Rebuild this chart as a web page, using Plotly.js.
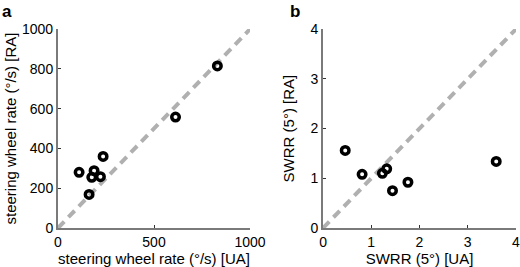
<!DOCTYPE html>
<html><head><meta charset="utf-8">
<script src="https://cdn.plot.ly/plotly-3.0.1.min.js"></script>
<style>html,body{margin:0;padding:0;background:#fff}</style>
</head><body><div id="chart" style="width:520px;height:267px"></div>
<script>
const uaRateA = [830, 612, 235, 110, 188, 176, 221, 162];
const raRateA = [815, 558, 360, 280, 288, 255, 258, 169];
const uaSwrrB = [0.46, 0.81, 1.23, 1.32, 1.44, 1.76, 3.59];
const raSwrrB = [1.56, 1.08, 1.10, 1.19, 0.75, 0.92, 1.34];
const identityA = [0, 1000];
const identityB = [0, 4];

const mk = {symbol:'circle-open', size:7.5, color:'#000', line:{width:3.5, color:'#000'}};
const dashLine = {color:'#b0b0b0', width:4, dash:'9px,6px'};
const data = [
  {x:identityA, y:identityA, mode:'lines', line:dashLine, xaxis:'x', yaxis:'y', hoverinfo:'skip'},
  {x:uaRateA, y:raRateA, mode:'markers', marker:mk, xaxis:'x', yaxis:'y'},
  {x:identityB, y:identityB, mode:'lines', line:dashLine, xaxis:'x2', yaxis:'y2', hoverinfo:'skip'},
  {x:uaSwrrB, y:raSwrrB, mode:'markers', marker:mk, xaxis:'x2', yaxis:'y2'}
];
const fam = 'Liberation Sans, Arial, sans-serif';
const tfnt = {family:fam, size:14, color:'#000'};
const titleFnt = {family:fam, size:15, color:'#000'};
function ax(extra){
  return Object.assign({showgrid:false, zeroline:false, showline:true, linecolor:'#7a7a7a', linewidth:2,
    ticks:'inside', ticklen:3, tickcolor:'#333', tickfont:tfnt, mirror:false, fixedrange:true,
    ticklabeloverflow:'allow'}, extra);
}
const layout = {
  width:520, height:267, margin:{l:0,r:0,t:0,b:0}, showlegend:false,
  paper_bgcolor:'#fff', plot_bgcolor:'#fff', font:tfnt,
  xaxis: ax({domain:[0.1115,0.4808], range:[0,1000], tickvals:[0,500,1000], anchor:'y',
    title:{text:'steering wheel rate (°/s) [UA]', font:titleFnt, standoff:0}}),
  yaxis: ax({domain:[0.146,0.891], range:[0,1000], tickvals:[0,200,400,600,800,1000], anchor:'x',
    title:{text:'steering wheel rate (°/s) [RA]', font:titleFnt, standoff:2}}),
  xaxis2: ax({domain:[0.6212,0.9923], range:[0,4], tickvals:[0,1,2,3,4], anchor:'y2',
    title:{text:'SWRR (5°) [UA]', font:titleFnt, standoff:0}}),
  yaxis2: ax({domain:[0.146,0.891], range:[0,4], tickvals:[0,1,2,3,4], anchor:'x2',
    title:{text:'SWRR (5°) [RA]', font:titleFnt, standoff:12}}),
  annotations:[
    {text:'<b>a</b>', xref:'paper', yref:'paper', x:0.0, y:1.0, xanchor:'left', yanchor:'top', showarrow:false, font:{family:fam, size:17, color:'#000'}},
    {text:'<b>b</b>', xref:'paper', yref:'paper', x:0.553, y:1.0, xanchor:'left', yanchor:'top', showarrow:false, font:{family:fam, size:17, color:'#000'}}
  ]
};
Plotly.newPlot('chart', data, layout, {staticPlot:true, displayModeBar:false});
</script></body></html>
